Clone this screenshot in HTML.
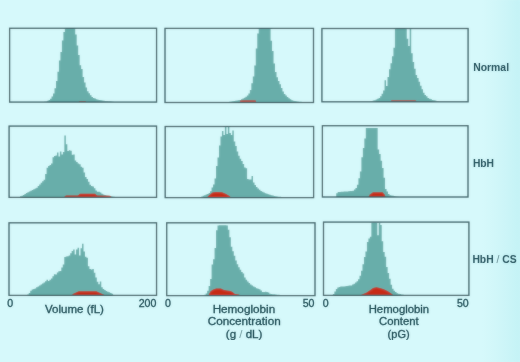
<!DOCTYPE html>
<html><head><meta charset="utf-8"><style>
html,body{margin:0;padding:0;background:#d6f9fb;}
body{width:520px;height:362px;overflow:hidden;}
#w{width:520px;height:362px;}
svg{display:block;font-family:"Liberation Sans",sans-serif;fill:#24525a;}
</style></head><body>
<div id="w"><svg width="520" height="362" viewBox="0 0 520 362">
<defs><filter id="bl" x="0" y="0" width="1" height="1"><feGaussianBlur in="SourceGraphic" stdDeviation="1" result="b"/><feComposite in="SourceGraphic" in2="b" operator="arithmetic" k1="0" k2="0.62" k3="0.38" k4="0"/></filter><filter id="bt" x="0" y="0" width="1" height="1"><feGaussianBlur in="SourceGraphic" stdDeviation="1" result="b"/><feComposite in="SourceGraphic" in2="b" operator="arithmetic" k1="0" k2="0.8" k3="0.25" k4="0"/></filter><linearGradient id="rg" x1="0" x2="1" y1="0" y2="0"><stop offset="0" stop-color="#c4f0f2" stop-opacity="0"/><stop offset="1" stop-color="#bcf0f4" stop-opacity="0.7"/></linearGradient></defs>
<g filter="url(#bl)"><rect width="520" height="362" fill="#d6f9fb"/>
<rect x="482" y="0" width="38" height="362" fill="url(#rg)"/>
<polygon points="42.66,102.00 42.66,102.00 44.14,102.00 44.14,101.80 45.62,101.80 45.62,101.40 47.10,101.40 47.10,100.70 48.58,100.70 48.58,100.00 50.06,100.00 50.06,98.75 51.54,98.75 51.54,96.60 53.02,96.60 53.02,93.40 54.50,93.40 54.50,88.30 55.98,88.30 55.98,81.00 57.46,81.00 57.46,71.85 58.94,71.85 58.94,60.50 60.42,60.50 60.42,51.90 61.90,51.90 61.90,40.50 63.38,40.50 63.38,32.00 64.86,32.00 64.86,28.30 66.34,28.30 66.34,28.30 67.82,28.30 67.82,28.30 69.30,28.30 69.30,28.30 70.78,28.30 70.78,28.30 72.26,28.30 72.26,28.30 73.74,28.30 73.74,28.30 75.22,28.30 75.22,34.50 76.70,34.50 76.70,45.60 78.18,45.60 78.18,55.10 79.66,55.10 79.66,65.20 81.14,65.20 81.14,68.90 82.62,68.90 82.62,76.90 84.10,76.90 84.10,82.40 85.58,82.40 85.58,87.40 87.06,87.40 87.06,91.20 88.54,91.20 88.54,93.30 90.02,93.30 90.02,95.30 91.50,95.30 91.50,97.00 92.98,97.00 92.98,97.90 94.46,97.90 94.46,98.60 95.94,98.60 95.94,99.30 97.42,99.30 97.42,99.70 98.90,99.70 98.90,100.00 100.38,100.00 100.38,100.30 101.86,100.30 101.86,100.55 103.34,100.55 103.34,100.70 104.82,100.70 104.82,100.90 106.30,100.90 106.30,101.00 107.78,101.00 107.78,101.20 109.26,101.20 109.26,101.30 110.74,101.30 110.74,101.50 112.22,101.50 112.22,101.70 113.70,101.70 113.70,101.90 115.18,101.90 115.18,102.00 116.66,102.00 116.66,102.00" fill="#68aeaa"/>
<polygon points="79.00,102.00 79.50,101.00 85.50,101.00 86.00,102.00" fill="#bc4a40"/>
<rect x="9.60" y="28.30" width="146.96" height="73.80" fill="none" stroke="#1e474e" stroke-width="1.25"/>
<polygon points="227.66,102.00 227.66,102.00 229.14,102.00 229.14,101.80 230.62,101.80 230.62,101.50 232.10,101.50 232.10,101.30 233.58,101.30 233.58,101.10 235.06,101.10 235.06,100.80 236.54,100.80 236.54,100.50 238.02,100.50 238.02,100.30 239.50,100.30 239.50,100.00 240.98,100.00 240.98,99.30 242.46,99.30 242.46,98.55 243.94,98.55 243.94,97.80 245.42,97.80 245.42,96.70 246.90,96.70 246.90,95.50 248.38,95.50 248.38,93.40 249.86,93.40 249.86,89.95 251.34,89.95 251.34,83.30 252.82,83.30 252.82,76.50 254.30,76.50 254.30,65.40 255.78,65.40 255.78,48.60 257.26,48.60 257.26,33.55 258.74,33.55 258.74,28.30 260.22,28.30 260.22,28.30 261.70,28.30 261.70,28.30 263.18,28.30 263.18,28.30 264.66,28.30 264.66,28.30 266.14,28.30 266.14,28.30 267.62,28.30 267.62,28.30 269.10,28.30 269.10,28.30 270.58,28.30 270.58,40.70 272.06,40.70 272.06,50.90 273.54,50.90 273.54,63.60 275.02,63.60 275.02,72.00 276.50,72.00 276.50,77.30 277.98,77.30 277.98,81.10 279.46,81.10 279.46,84.25 280.94,84.25 280.94,87.90 282.42,87.90 282.42,91.60 283.90,91.60 283.90,93.90 285.38,93.90 285.38,95.60 286.86,95.60 286.86,96.95 288.34,96.95 288.34,98.20 289.82,98.20 289.82,99.30 291.30,99.30 291.30,100.20 292.78,100.20 292.78,100.80 294.26,100.80 294.26,101.00 295.74,101.00 295.74,101.20 297.22,101.20 297.22,101.50 298.70,101.50 298.70,101.70 300.18,101.70 300.18,101.80 301.66,101.80 301.66,101.90 303.14,101.90 303.14,102.00 304.62,102.00 304.62,102.00 306.10,102.00 306.10,102.00 307.58,102.00 307.58,102.00" fill="#68aeaa"/>
<polygon points="239.80,102.00 240.50,100.20 255.50,100.20 256.20,102.00" fill="#bc4a40"/>
<rect x="165.00" y="28.40" width="148.50" height="74.10" fill="none" stroke="#1e474e" stroke-width="1.25"/>
<polygon points="369.76,101.40 369.76,101.30 371.24,101.30 371.24,100.90 372.72,100.90 372.72,100.60 374.20,100.60 374.20,100.20 375.68,100.20 375.68,99.60 377.16,99.60 377.16,98.75 378.64,98.75 378.64,97.90 380.12,97.90 380.12,96.20 381.60,96.20 381.60,93.70 383.08,93.70 383.08,90.60 384.56,90.60 384.56,80.30 386.04,80.30 386.04,86.10 387.52,86.10 387.52,76.90 389.00,76.90 389.00,69.30 390.48,69.30 390.48,63.30 391.96,63.30 391.96,56.25 393.44,56.25 393.44,47.80 394.92,47.80 394.92,28.60 396.40,28.60 396.40,28.60 397.88,28.60 397.88,28.60 399.36,28.60 399.36,28.60 400.84,28.60 400.84,28.60 402.32,28.60 402.32,28.60 403.80,28.60 403.80,28.60 405.28,28.60 405.28,28.60 406.76,28.60 406.76,38.80 408.24,38.80 408.24,45.90 409.72,45.90 409.72,28.60 411.20,28.60 411.20,53.20 412.68,53.20 412.68,62.00 414.16,62.00 414.16,68.80 415.64,68.80 415.64,74.90 417.12,74.90 417.12,77.90 418.60,77.90 418.60,81.80 420.08,81.80 420.08,85.70 421.56,85.70 421.56,89.20 423.04,89.20 423.04,92.70 424.52,92.70 424.52,95.10 426.00,95.10 426.00,96.20 427.48,96.20 427.48,98.00 428.96,98.00 428.96,98.80 430.44,98.80 430.44,99.30 431.92,99.30 431.92,99.90 433.40,99.90 433.40,100.30 434.88,100.30 434.88,100.60 436.36,100.60 436.36,100.90 437.84,100.90 437.84,101.20 439.32,101.20 439.32,101.40 440.80,101.40 440.80,101.40 442.28,101.40 442.28,101.40" fill="#68aeaa"/>
<polygon points="390.60,101.60 391.50,100.20 415.50,100.20 416.50,101.60" fill="#bc4a40"/>
<rect x="321.90" y="28.50" width="146.20" height="73.30" fill="none" stroke="#1e474e" stroke-width="1.25"/>
<polygon points="17.00,197.30 17.00,197.30 18.48,197.30 18.48,197.10 19.96,197.10 19.96,196.35 21.44,196.35 21.44,195.70 22.92,195.70 22.92,194.90 24.40,194.90 24.40,194.00 25.88,194.00 25.88,193.00 27.36,193.00 27.36,192.20 28.84,192.20 28.84,191.50 30.32,191.50 30.32,190.70 31.80,190.70 31.80,190.00 33.28,190.00 33.28,189.20 34.76,189.20 34.76,188.45 36.24,188.45 36.24,187.70 37.72,187.70 37.72,186.10 39.20,186.10 39.20,184.40 40.68,184.40 40.68,182.80 42.16,182.80 42.16,181.35 43.64,181.35 43.64,179.80 45.12,179.80 45.12,174.00 46.60,174.00 46.60,167.80 48.08,167.80 48.08,166.00 49.56,166.00 49.56,164.95 51.04,164.95 51.04,163.50 52.52,163.50 52.52,157.30 54.00,157.30 54.00,156.00 55.48,156.00 55.48,155.60 56.96,155.60 56.96,152.60 58.44,152.60 58.44,156.40 59.92,156.40 59.92,151.50 61.40,151.50 61.40,154.60 62.88,154.60 62.88,152.00 64.36,152.00 64.36,135.60 65.84,135.60 65.84,144.30 67.32,144.30 67.32,151.00 68.80,151.00 68.80,150.20 70.28,150.20 70.28,150.70 71.76,150.70 71.76,154.75 73.24,154.75 73.24,154.40 74.72,154.40 74.72,160.50 76.20,160.50 76.20,162.00 77.68,162.00 77.68,163.60 79.16,163.60 79.16,164.35 80.64,164.35 80.64,166.70 82.12,166.70 82.12,167.80 83.60,167.80 83.60,172.50 85.08,172.50 85.08,176.90 86.56,176.90 86.56,178.90 88.04,178.90 88.04,181.80 89.52,181.80 89.52,184.80 91.00,184.80 91.00,185.90 92.48,185.90 92.48,186.50 93.96,186.50 93.96,188.35 95.44,188.35 95.44,190.40 96.92,190.40 96.92,191.80 98.40,191.80 98.40,191.70 99.88,191.70 99.88,192.40 101.36,192.40 101.36,193.75 102.84,193.75 102.84,194.60 104.32,194.60 104.32,195.10 105.80,195.10 105.80,195.50 107.28,195.50 107.28,195.80 108.76,195.80 108.76,196.00 110.24,196.00 110.24,196.30 111.72,196.30 111.72,196.50 113.20,196.50 113.20,196.80 114.68,196.80 114.68,197.20 116.16,197.20 116.16,197.30 117.64,197.30 117.64,197.30" fill="#68aeaa"/>
<polygon points="63.75,197.30 66.00,195.60 78.00,195.60 80.00,193.75 95.00,193.75 97.00,195.60 110.00,195.80 111.90,197.30" fill="#c82c16"/>
<rect x="9.10" y="126.10" width="147.45" height="71.30" fill="none" stroke="#1e474e" stroke-width="1.25"/>
<polygon points="199.74,197.30 199.74,197.00 201.22,197.00 201.22,196.40 202.70,196.40 202.70,195.80 204.18,195.80 204.18,195.30 205.66,195.30 205.66,194.60 207.14,194.60 207.14,193.90 208.62,193.90 208.62,192.90 210.10,192.90 210.10,191.30 211.58,191.30 211.58,187.40 213.06,187.40 213.06,184.50 214.54,184.50 214.54,178.40 216.02,178.40 216.02,166.10 217.50,166.10 217.50,157.40 218.98,157.40 218.98,145.60 220.46,145.60 220.46,136.55 221.94,136.55 221.94,131.10 223.42,131.10 223.42,135.00 224.90,135.00 224.90,126.50 226.38,126.50 226.38,134.00 227.86,134.00 227.86,126.50 229.34,126.50 229.34,133.00 230.82,133.00 230.82,135.00 232.30,135.00 232.30,130.50 233.78,130.50 233.78,141.60 235.26,141.60 235.26,146.10 236.74,146.10 236.74,151.60 238.22,151.60 238.22,155.80 239.70,155.80 239.70,158.80 241.18,158.80 241.18,161.10 242.66,161.10 242.66,164.05 244.14,164.05 244.14,167.50 245.62,167.50 245.62,168.30 247.10,168.30 247.10,179.10 248.58,179.10 248.58,179.40 250.06,179.40 250.06,179.60 251.54,179.60 251.54,176.10 253.02,176.10 253.02,182.60 254.50,182.60 254.50,184.90 255.98,184.90 255.98,187.00 257.46,187.00 257.46,188.45 258.94,188.45 258.94,189.80 260.42,189.80 260.42,190.90 261.90,190.90 261.90,191.80 263.38,191.80 263.38,192.60 264.86,192.60 264.86,193.20 266.34,193.20 266.34,193.70 267.82,193.70 267.82,194.30 269.30,194.30 269.30,194.80 270.78,194.80 270.78,195.30 272.26,195.30 272.26,195.60 273.74,195.60 273.74,195.90 275.22,195.90 275.22,196.30 276.70,196.30 276.70,196.50 278.18,196.50 278.18,196.70 279.66,196.70 279.66,196.80 281.14,196.80 281.14,197.00 282.62,197.00 282.62,197.10 284.10,197.10 284.10,197.30 285.58,197.30 285.58,197.30 287.06,197.30 287.06,197.30 288.54,197.30 288.54,197.30" fill="#68aeaa"/>
<polygon points="207.20,197.30 210.00,194.50 212.50,192.50 216.00,192.10 222.00,192.30 226.00,194.00 229.00,195.80 230.80,197.30" fill="#c82c16"/>
<rect x="165.20" y="126.50" width="148.40" height="71.10" fill="none" stroke="#1e474e" stroke-width="1.25"/>
<polygon points="334.74,197.10 334.74,197.10 336.22,197.10 336.22,193.30 337.70,193.30 337.70,192.00 339.18,192.00 339.18,191.90 340.66,191.90 340.66,191.80 342.14,191.80 342.14,191.70 343.62,191.70 343.62,191.60 345.10,191.60 345.10,191.50 346.58,191.50 346.58,191.40 348.06,191.40 348.06,191.25 349.54,191.25 349.54,191.10 351.02,191.10 351.02,191.10 352.50,191.10 352.50,190.70 353.98,190.70 353.98,189.60 355.46,189.60 355.46,187.95 356.94,187.95 356.94,184.70 358.42,184.70 358.42,178.20 359.90,178.20 359.90,171.40 361.38,171.40 361.38,157.30 362.86,157.30 362.86,148.10 364.34,148.10 364.34,138.50 365.82,138.50 365.82,127.90 367.30,127.90 367.30,127.90 368.78,127.90 368.78,127.90 370.26,127.90 370.26,127.90 371.74,127.90 371.74,127.90 373.22,127.90 373.22,127.90 374.70,127.90 374.70,127.90 376.18,127.90 376.18,127.90 377.66,127.90 377.66,149.40 379.14,149.40 379.14,154.00 380.62,154.00 380.62,160.70 382.10,160.70 382.10,168.00 383.58,168.00 383.58,177.80 385.06,177.80 385.06,188.90 386.54,188.90 386.54,191.50 388.02,191.50 388.02,194.10 389.50,194.10 389.50,195.30 390.98,195.30 390.98,195.50 392.46,195.50 392.46,195.80 393.94,195.80 393.94,196.10 395.42,196.10 395.42,196.40 396.90,196.40 396.90,196.70 398.38,196.70 398.38,197.00 399.86,197.00 399.86,197.10 401.34,197.10 401.34,197.10 402.82,197.10 402.82,197.10" fill="#68aeaa"/>
<polygon points="368.40,197.00 370.00,194.50 373.00,192.30 382.50,192.30 384.50,194.50 385.50,197.00" fill="#c82c16"/>
<rect x="322.40" y="125.70" width="145.60" height="71.30" fill="none" stroke="#1e474e" stroke-width="1.25"/>
<polygon points="25.78,295.30 25.78,295.20 27.26,295.20 27.26,294.55 28.74,294.55 28.74,293.10 30.22,293.10 30.22,290.80 31.70,290.80 31.70,289.60 33.18,289.60 33.18,289.00 34.66,289.00 34.66,288.45 36.14,288.45 36.14,287.30 37.62,287.30 37.62,286.40 39.10,286.40 39.10,285.50 40.58,285.50 40.58,284.40 42.06,284.40 42.06,283.55 43.54,283.55 43.54,282.60 45.02,282.60 45.02,281.30 46.50,281.30 46.50,279.80 47.98,279.80 47.98,281.10 49.46,281.10 49.46,279.85 50.94,279.85 50.94,278.50 52.42,278.50 52.42,276.30 53.90,276.30 53.90,274.30 55.38,274.30 55.38,274.40 56.86,274.40 56.86,272.50 58.34,272.50 58.34,271.30 59.82,271.30 59.82,270.90 61.30,270.90 61.30,267.50 62.78,267.50 62.78,264.50 64.26,264.50 64.26,257.10 65.74,257.10 65.74,256.40 67.22,256.40 67.22,256.30 68.70,256.30 68.70,255.50 70.18,255.50 70.18,253.20 71.66,253.20 71.66,251.05 73.14,251.05 73.14,249.40 74.62,249.40 74.62,254.40 76.10,254.40 76.10,249.60 77.58,249.60 77.58,247.70 79.06,247.70 79.06,255.50 80.54,255.50 80.54,248.30 82.02,248.30 82.02,243.80 83.50,243.80 83.50,251.50 84.98,251.50 84.98,256.70 86.46,256.70 86.46,257.75 87.94,257.75 87.94,266.30 89.42,266.30 89.42,268.90 90.90,268.90 90.90,269.40 92.38,269.40 92.38,269.10 93.86,269.10 93.86,272.75 95.34,272.75 95.34,277.60 96.82,277.60 96.82,281.80 98.30,281.80 98.30,284.20 99.78,284.20 99.78,281.60 101.26,281.60 101.26,287.25 102.74,287.25 102.74,288.90 104.22,288.90 104.22,290.00 105.70,290.00 105.70,290.90 107.18,290.90 107.18,291.70 108.66,291.70 108.66,292.35 110.14,292.35 110.14,293.00 111.62,293.00 111.62,293.80 113.10,293.80 113.10,295.10 114.58,295.10 114.58,295.30 116.06,295.30 116.06,295.30 117.54,295.30 117.54,295.30" fill="#68aeaa"/>
<polygon points="71.30,295.30 74.00,293.50 78.80,291.30 96.30,291.30 100.00,293.00 105.00,295.30" fill="#c82c16"/>
<rect x="9.00" y="222.80" width="147.55" height="72.60" fill="none" stroke="#1e474e" stroke-width="1.25"/>
<polygon points="202.72,295.10 202.72,295.10 204.20,295.10 204.20,294.70 205.68,294.70 205.68,293.50 207.16,293.50 207.16,290.85 208.64,290.85 208.64,286.00 210.12,286.00 210.12,279.00 211.60,279.00 211.60,264.40 213.08,264.40 213.08,259.30 214.56,259.30 214.56,248.00 216.04,248.00 216.04,230.20 217.52,230.20 217.52,225.40 219.00,225.40 219.00,225.30 220.48,225.30 220.48,225.30 221.96,225.30 221.96,225.30 223.44,225.30 223.44,225.30 224.92,225.30 224.92,225.30 226.40,225.30 226.40,225.50 227.88,225.50 227.88,229.70 229.36,229.70 229.36,237.35 230.84,237.35 230.84,246.80 232.32,246.80 232.32,251.30 233.80,251.30 233.80,255.70 235.28,255.70 235.28,260.50 236.76,260.50 236.76,264.30 238.24,264.30 238.24,267.20 239.72,267.20 239.72,269.80 241.20,269.80 241.20,272.00 242.68,272.00 242.68,273.50 244.16,273.50 244.16,277.45 245.64,277.45 245.64,279.70 247.12,279.70 247.12,281.50 248.60,281.50 248.60,283.10 250.08,283.10 250.08,284.40 251.56,284.40 251.56,285.45 253.04,285.45 253.04,286.40 254.52,286.40 254.52,287.30 256.00,287.30 256.00,288.20 257.48,288.20 257.48,288.80 258.96,288.80 258.96,289.35 260.44,289.35 260.44,290.50 261.92,290.50 261.92,291.90 263.40,291.90 263.40,292.10 264.88,292.10 264.88,291.70 266.36,291.70 266.36,292.00 267.84,292.00 267.84,292.60 269.32,292.60 269.32,293.70 270.80,293.70 270.80,294.00 272.28,294.00 272.28,294.20 273.76,294.20 273.76,294.30 275.24,294.30 275.24,294.50 276.72,294.50 276.72,294.70 278.20,294.70 278.20,294.80 279.68,294.80 279.68,295.00 281.16,295.00 281.16,295.10 282.64,295.10 282.64,295.10 284.12,295.10 284.12,295.10" fill="#68aeaa"/>
<polygon points="208.70,295.10 210.40,291.50 212.80,289.80 216.20,288.60 220.90,288.40 223.20,289.80 226.70,290.40 230.20,291.00 232.50,292.10 234.80,293.90 238.30,294.60 240.00,295.10" fill="#c82c16"/>
<rect x="166.70" y="222.80" width="148.30" height="72.80" fill="none" stroke="#1e474e" stroke-width="1.25"/>
<polygon points="331.40,295.10 331.40,295.10 332.88,295.10 332.88,294.10 334.36,294.10 334.36,291.55 335.84,291.55 335.84,288.90 337.32,288.90 337.32,287.40 338.80,287.40 338.80,287.00 340.28,287.00 340.28,286.60 341.76,286.60 341.76,286.50 343.24,286.50 343.24,286.40 344.72,286.40 344.72,286.20 346.20,286.20 346.20,286.00 347.68,286.00 347.68,285.80 349.16,285.80 349.16,285.60 350.64,285.60 350.64,285.40 352.12,285.40 352.12,284.60 353.60,284.60 353.60,283.70 355.08,283.70 355.08,282.60 356.56,282.60 356.56,281.15 358.04,281.15 358.04,279.20 359.52,279.20 359.52,275.70 361.00,275.70 361.00,270.80 362.48,270.80 362.48,264.20 363.96,264.20 363.96,257.05 365.44,257.05 365.44,251.40 366.92,251.40 366.92,241.90 368.40,241.90 368.40,238.50 369.88,238.50 369.88,236.70 371.36,236.70 371.36,223.00 372.84,223.00 372.84,223.00 374.32,223.00 374.32,223.00 375.80,223.00 375.80,223.00 377.28,223.00 377.28,235.30 378.76,235.30 378.76,223.00 380.24,223.00 380.24,224.90 381.72,224.90 381.72,241.30 383.20,241.30 383.20,252.10 384.68,252.10 384.68,256.80 386.16,256.80 386.16,267.10 387.64,267.10 387.64,273.00 389.12,273.00 389.12,278.80 390.60,278.80 390.60,284.80 392.08,284.80 392.08,288.70 393.56,288.70 393.56,290.80 395.04,290.80 395.04,292.10 396.52,292.10 396.52,293.20 398.00,293.20 398.00,293.70 399.48,293.70 399.48,294.10 400.96,294.10 400.96,294.40 402.44,294.40 402.44,294.70 403.92,294.70 403.92,295.10 405.40,295.10 405.40,295.10 406.88,295.10 406.88,295.10" fill="#68aeaa"/>
<polygon points="361.00,295.10 366.30,292.70 370.40,290.00 373.10,288.00 376.40,287.30 379.80,288.00 383.80,289.30 387.90,291.30 391.90,294.00 393.00,295.10" fill="#c82c16"/>
<rect x="323.50" y="222.10" width="145.40" height="73.30" fill="none" stroke="#1e474e" stroke-width="1.25"/>
</g>
<g filter="url(#bt)"><text transform="translate(473.2,70.9) scale(1.03,1)" font-weight="bold" font-size="10.1" text-anchor="start" fill="#2d5a64">Normal</text>
<text transform="translate(472.9,166.9) scale(1.03,1)" font-weight="bold" font-size="10.0" text-anchor="start" fill="#2d5a64">HbH</text>
<text transform="translate(7.2,306.6) scale(1.02,1)" font-weight="normal" font-size="10.4" text-anchor="start" stroke="#24525a" stroke-width="0.3">0</text>
<text transform="translate(156.4,306.6) scale(1.02,1)" font-weight="normal" font-size="10.4" text-anchor="end" stroke="#24525a" stroke-width="0.3">200</text>
<text transform="translate(165.1,306.6) scale(1.02,1)" font-weight="normal" font-size="10.4" text-anchor="start" stroke="#24525a" stroke-width="0.3">0</text>
<text transform="translate(314.5,306.6) scale(1.02,1)" font-weight="normal" font-size="10.4" text-anchor="end" stroke="#24525a" stroke-width="0.3">50</text>
<text transform="translate(322.7,306.6) scale(1.02,1)" font-weight="normal" font-size="10.4" text-anchor="start" stroke="#24525a" stroke-width="0.3">0</text>
<text transform="translate(468.7,306.6) scale(1.02,1)" font-weight="normal" font-size="10.4" text-anchor="end" stroke="#24525a" stroke-width="0.3">50</text>
<text transform="translate(74.5,313.0) scale(1.047,1)" font-weight="normal" font-size="11" text-anchor="middle" stroke="#24525a" stroke-width="0.3">Volume (fL)</text>
<text transform="translate(243.9,313.4) scale(1.065,1)" font-weight="normal" font-size="11" text-anchor="middle" stroke="#24525a" stroke-width="0.3">Hemoglobin</text>
<text transform="translate(244.2,325.2) scale(1.065,1)" font-weight="normal" font-size="11" text-anchor="middle" stroke="#24525a" stroke-width="0.3">Concentration</text>
<text transform="translate(244.1,337.6) scale(1.05,1)" font-weight="normal" font-size="11" text-anchor="middle" stroke="#24525a" stroke-width="0.3">(g <tspan fill="#6f989c" stroke="none">/</tspan> dL)</text>
<text transform="translate(398.9,313.4) scale(1.03,1)" font-weight="normal" font-size="11" text-anchor="middle" stroke="#24525a" stroke-width="0.3">Hemoglobin</text>
<text transform="translate(398.9,325.4) scale(1.03,1)" font-weight="normal" font-size="11" text-anchor="middle" stroke="#24525a" stroke-width="0.3">Content</text>
<text transform="translate(398.6,337.8) scale(1.0,1)" font-weight="normal" font-size="11" text-anchor="middle" stroke="#24525a" stroke-width="0.3">(pG)</text>
<text transform="translate(472.4,263.4) scale(1.035,1)" font-size="10.0" font-weight="bold" fill="#2d5a64">HbH <tspan font-weight="normal" fill="#62898f">/</tspan> CS</text></g>
</svg></div>
</body></html>
